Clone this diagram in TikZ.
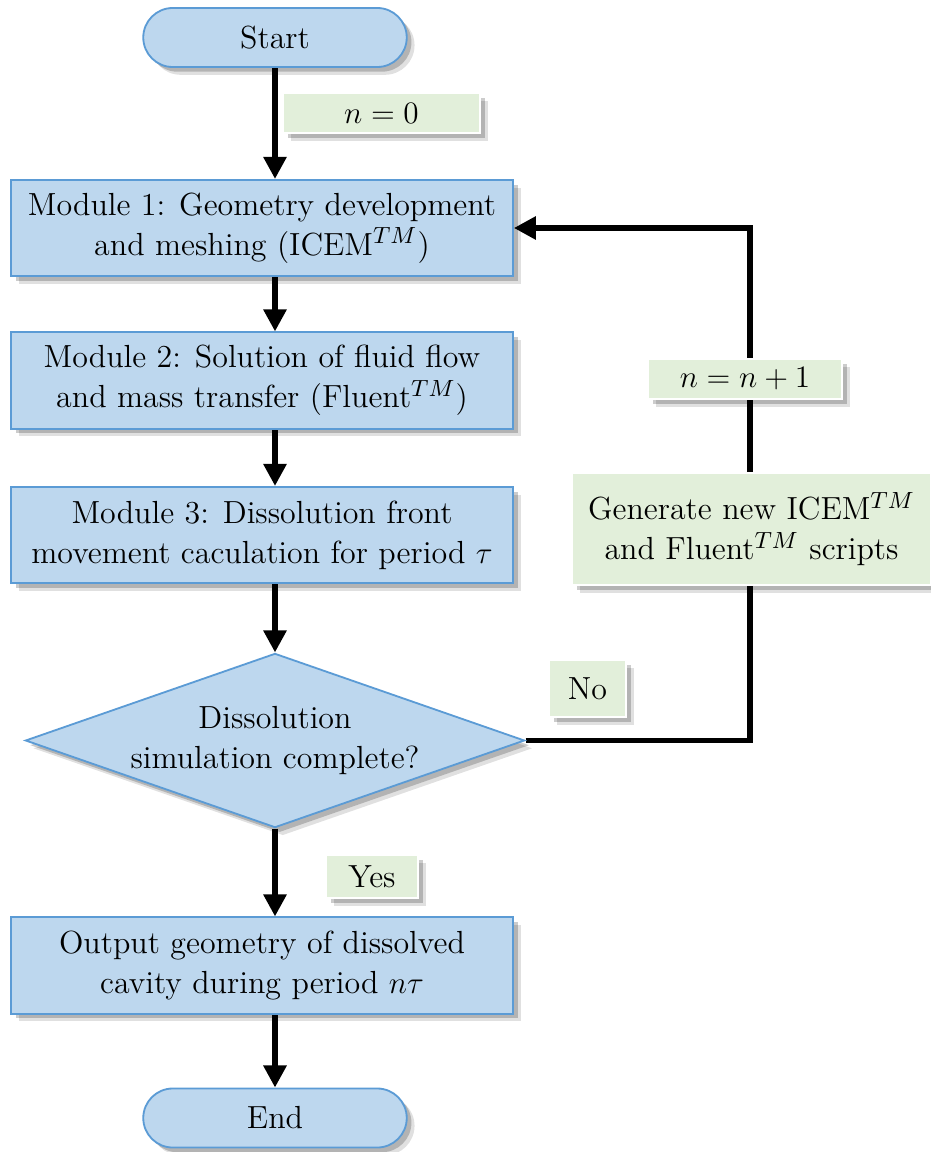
\documentclass[tikz,border=0pt]{standalone}
\usepackage{amsmath}
\usetikzlibrary{arrows.meta,shapes.geometric,shapes.misc,shadows,backgrounds}
\definecolor{boxfill}{HTML}{BDD7EE}
\definecolor{boxline}{HTML}{5B9BD5}
\definecolor{notefill}{HTML}{E2EFDA}

\begin{document}
\begin{tikzpicture}[x=0.3846pt,y=-0.3846pt,font=\fontsize{12.3}{15.4}\selectfont,
  flow/.style={line width=2.6pt,-{Triangle[width=8.5pt,length=8.5pt]}},
  shade/.style={drop shadow={shadow xshift=3pt,shadow yshift=-3pt,opacity=0.12,fill=black},
    drop shadow={shadow xshift=1.8pt,shadow yshift=-1.8pt,opacity=0.2,fill=black}},
  proc/.style={rectangle,draw=boxline,line width=0.7pt,fill=boxfill,align=center,
    minimum width=193pt,minimum height=37pt,inner sep=2pt,shade},
  term/.style={rounded rectangle,draw=boxline,line width=0.7pt,fill=boxfill,
    minimum width=108pt,minimum height=22.7pt,shade},
  decide/.style={diamond,draw=boxline,line width=0.7pt,fill=boxfill,align=center,aspect=2.86,
    minimum width=192pt,minimum height=67pt,inner sep=0pt,shade},
  note/.style={rectangle,draw=white,line width=0.5pt,fill=notefill,align=center,inner sep=0pt,shade}]
\useasboundingbox (0,0) rectangle (931,1152);
\node[term] (start) at (275,37.5) {Start};
\node[note,minimum width=75.8pt,minimum height=15.4pt] (n0) at (381.5,113) {$n=0$};
\node[proc] (m1) at (262,228) {Module 1: Geometry development\\and meshing (ICEM$^{TM}$)};
\node[proc] (m2) at (262,380.5) {Module 2: Solution of fluid flow\\and mass transfer (Fluent$^{TM}$)};
\node[proc] (m3) at (262,535) {Module 3: Dissolution front\\movement caculation for period $\tau$};
\node[decide] (dec) at (275,740.5) {Dissolution\\simulation complete?};
\node[note,minimum width=29.6pt,minimum height=21.9pt] (no) at (587.5,688.5) {No};
\node[note,minimum width=35.4pt,minimum height=16.5pt] (yes) at (372,876.5) {Yes};
\node[proc] (out) at (262,965.5) {Output geometry of dissolved\\cavity during period $n\tau$};
\node[term] (end) at (275,1118) {End};
\node[note,minimum width=138pt,minimum height=43pt] (gen) at (751.5,529)
  {Generate new ICEM$^{TM}$\\and Fluent$^{TM}$ scripts};
\node[note,minimum width=74.6pt,minimum height=15.4pt] (inc) at (745,379) {$n=n+1$};
\coordinate (corner) at (750,740.5);
\begin{scope}[on background layer]
\draw[flow] (start.south) -- (start.south |- m1.north);
\draw[flow] (start.south |- m1.south) -- (start.south |- m2.north);
\draw[flow] (start.south |- m2.south) -- (start.south |- m3.north);
\draw[flow] (start.south |- m3.south) -- (dec.north);
\draw[flow] (dec.south) -- (start.south |- out.north);
\draw[flow] (start.south |- out.south) -- (end.north);
\draw[flow,line width=2.3pt] (dec.east) -- (corner) |- (m1.east);
\end{scope}
\end{tikzpicture}
\end{document}
